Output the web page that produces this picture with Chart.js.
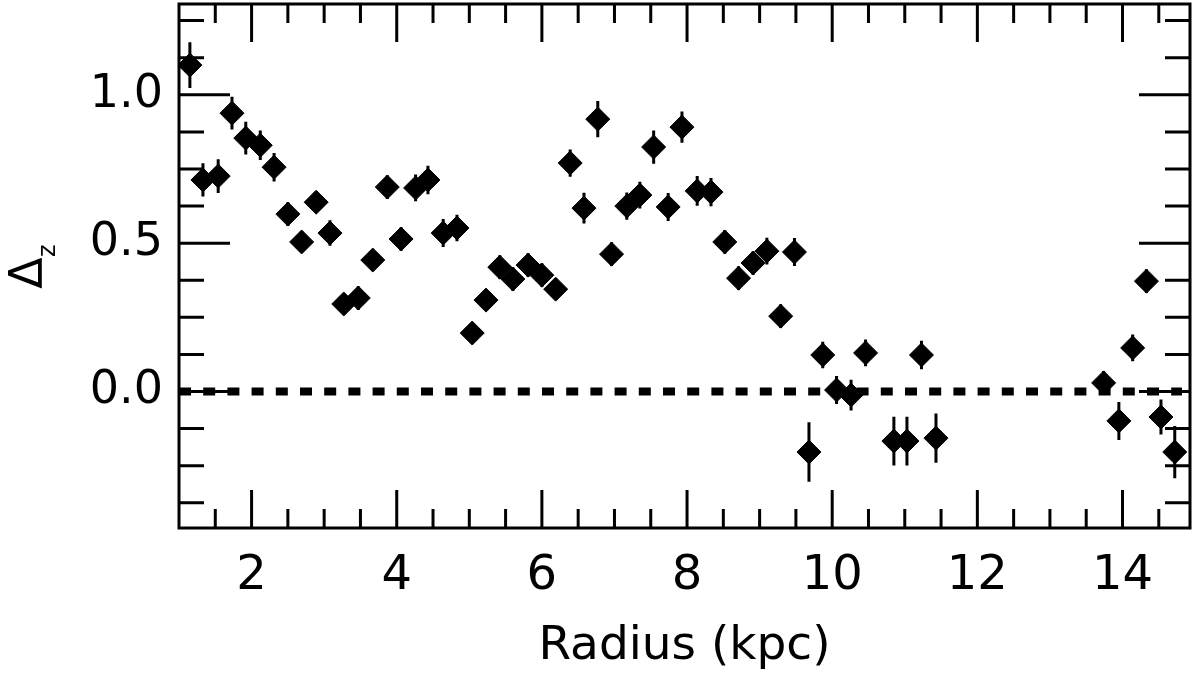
<!DOCTYPE html>
<html>
<head>
<meta charset="utf-8">
<script src="https://cdn.jsdelivr.net/npm/chart.js@4.4.0/dist/chart.umd.min.js"></script>
<style>
  html, body { margin: 0; padding: 0; background: #fff; }
</style>
</head>
<body>
<canvas id="chart" width="1200" height="678"></canvas>
<script>
// radius (kpc), offset and its error
const radius = [1.15, 1.33, 1.54, 1.73, 1.92, 2.12, 2.31, 2.50, 2.69, 2.89,
  3.08, 3.27, 3.47, 3.67, 3.87, 4.06, 4.26, 4.43, 4.64, 4.83,
  5.04, 5.23, 5.42, 5.60, 5.81, 6.00, 6.19, 6.39, 6.58, 6.77,
  6.96, 7.17, 7.35, 7.54, 7.74, 7.93, 8.14, 8.33, 8.52, 8.71,
  8.91, 9.10, 9.29, 9.48, 9.68, 9.87, 10.06, 10.26, 10.46, 10.85,
  11.03, 11.23, 11.43, 13.74, 13.95, 14.14, 14.33, 14.53, 14.72];
const deltaZ = [1.10, 0.713, 0.726, 0.938, 0.854, 0.830, 0.756, 0.598, 0.504, 0.638,
  0.534, 0.295, 0.315, 0.443, 0.689, 0.514, 0.686, 0.713, 0.534, 0.551,
  0.197, 0.308, 0.419, 0.379, 0.426, 0.392, 0.345, 0.770, 0.618, 0.918,
  0.463, 0.625, 0.662, 0.824, 0.622, 0.891, 0.676, 0.672, 0.504, 0.382,
  0.433, 0.473, 0.254, 0.470, -0.204, 0.123, 0.005, -0.012, 0.130, -0.167,
  -0.167, 0.123, -0.157, 0.029, -0.099, 0.147, 0.372, -0.086, -0.204];
const deltaErr = [0.077, 0.056, 0.057, 0.055, 0.055, 0.050, 0.048, 0.040, 0.035, 0.035,
  0.043, 0.030, 0.040, 0.035, 0.040, 0.040, 0.045, 0.048, 0.047, 0.045,
  0.030, 0.030, 0.040, 0.040, 0.040, 0.040, 0.035, 0.046, 0.052, 0.061,
  0.040, 0.046, 0.045, 0.056, 0.047, 0.053, 0.050, 0.048, 0.040, 0.040,
  0.040, 0.045, 0.040, 0.047, 0.100, 0.045, 0.047, 0.052, 0.045, 0.082,
  0.082, 0.048, 0.083, 0.040, 0.064, 0.045, 0.040, 0.059, 0.088];

const xTicks = [2, 4, 6, 8, 10, 12, 14];
const yTicks = [0.0, 0.5, 1.0];
const xMin = 1.0, xMax = 14.93, xMinor = 0.5;
const yMin = -0.46, yMax = 1.306, yMinor = 0.125;

const FONT = "'DejaVu Sans', 'Liberation Sans', sans-serif";

// frame, inward ticks on all sides, zero line, error bars, y title
const idlFrame = {
  id: 'idlFrame',
  beforeDatasetsDraw(chart) {
    const { ctx, chartArea: a, scales: { y } } = chart;
    const y0 = y.getPixelForValue(0);
    ctx.save();
    ctx.strokeStyle = '#000';
    ctx.lineWidth = 8;
    ctx.setLineDash([12, 12.2]);
    ctx.beginPath();
    ctx.moveTo(a.left, y0);
    ctx.lineTo(a.right - 8, y0);
    ctx.stroke();
    ctx.restore();
  },
  afterDatasetsDraw(chart) {
    const { ctx, chartArea: a, scales: { x, y } } = chart;
    ctx.save();
    ctx.strokeStyle = '#000';
    ctx.lineWidth = 3;

    // error bars
    ctx.beginPath();
    radius.forEach((r, i) => {
      const px = x.getPixelForValue(r);
      ctx.moveTo(px, y.getPixelForValue(deltaZ[i] + deltaErr[i]));
      ctx.lineTo(px, y.getPixelForValue(deltaZ[i] - deltaErr[i]));
    });
    ctx.stroke();

    // x ticks, bottom and top
    ctx.beginPath();
    for (let v = xMin + xMinor; v < xMax; v += xMinor) {
      const px = x.getPixelForValue(v);
      const len = Math.abs(v % 2) < 1e-6 ? 38 : 19;
      ctx.moveTo(px, a.bottom); ctx.lineTo(px, a.bottom - len);
      ctx.moveTo(px, a.top); ctx.lineTo(px, a.top + len);
    }
    // y ticks, left and right
    for (let v = -0.375; v < yMax; v += yMinor) {
      const py = y.getPixelForValue(v);
      const len = Math.abs(v / 0.5 - Math.round(v / 0.5)) < 1e-6 ? 51 : 25;
      ctx.moveTo(a.left, py); ctx.lineTo(a.left + len, py);
      ctx.moveTo(a.right, py); ctx.lineTo(a.right - len, py);
    }
    ctx.stroke();

    ctx.strokeRect(a.left, a.top, a.right - a.left, a.bottom - a.top);

    // y title: Delta with subscript z
    ctx.translate(42, 273);
    ctx.rotate(-Math.PI / 2);
    ctx.fillStyle = '#000';
    ctx.textBaseline = 'alphabetic';
    ctx.textAlign = 'center';
    ctx.font = '46px ' + FONT;
    ctx.fillText('\u0394', 0, 0);
    ctx.textAlign = 'left';
    ctx.font = '24px ' + FONT;
    ctx.fillText('z', 16, 13);
    ctx.restore();
  }
};

new Chart(document.getElementById('chart'), {
  type: 'scatter',
  data: {
    datasets: [{
      data: radius.map((r, i) => ({ x: r, y: deltaZ[i] })),
      pointStyle: 'rectRot',
      pointRadius: 12,
      backgroundColor: '#000',
      borderColor: '#000',
      borderWidth: 1
    }]
  },
  options: {
    responsive: false,
    devicePixelRatio: 1,
    animation: false,
    layout: { autoPadding: false, padding: { top: 4, right: 10, left: 0, bottom: 0 } },
    plugins: { legend: { display: false }, tooltip: { enabled: false } },
    scales: {
      x: {
        type: 'linear',
        min: xMin,
        max: xMax,
        grid: { display: false, drawTicks: false },
        border: { display: false },
        afterBuildTicks: s => { s.ticks = xTicks.map(v => ({ value: v })); },
        afterFit: s => { s.height = 150; s.paddingLeft = 0; s.paddingRight = 0; },
        ticks: {
          color: '#000',
          font: { family: FONT, size: 48 },
          padding: 20,
          maxRotation: 0,
          autoSkip: false,
          callback: v => String(v)
        },
        title: {
          display: true,
          text: 'Radius (kpc)',
          color: '#000',
          font: { family: FONT, size: 47 },
          padding: { top: 0, bottom: 3 }
        }
      },
      y: {
        type: 'linear',
        min: yMin,
        max: yMax,
        grid: { display: false, drawTicks: false },
        border: { display: false },
        afterBuildTicks: s => { s.ticks = yTicks.map(v => ({ value: v })); },
        afterFit: s => { s.width = 179; s.paddingTop = 0; s.paddingBottom = 0; },
        ticks: {
          color: '#000',
          font: { family: FONT, size: 46 },
          padding: 16,
          callback: v => v.toFixed(1)
        }
      }
    }
  },
  plugins: [idlFrame]
});
</script>
</body>
</html>
